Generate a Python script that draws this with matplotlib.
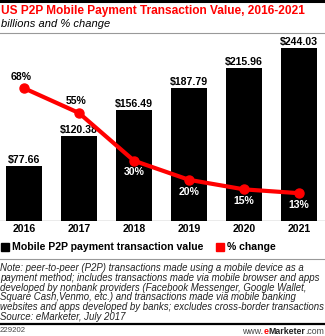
import matplotlib
matplotlib.use("Agg")
import matplotlib.pyplot as plt
from matplotlib.patches import Rectangle
from matplotlib.lines import Line2D

W, H = 325, 336

years = ["2016", "2017", "2018", "2019", "2020", "2021"]
values = [77.66, 120.38, 156.49, 187.79, 215.96, 244.03]
pct_change = [68, 55, 30, 20, 15, 13]
value_labels = ["$77.66", "$120.38", "$156.49", "$187.79", "$215.96", "$244.03"]
pct_labels = ["68%", "55%", "30%", "20%", "15%", "13%"]

note_lines = [
    "Note: peer-to-peer (P2P) transactions made using a mobile device as a",
    "payment method; includes transactions made via mobile browser and apps",
    "developed by nonbank providers (Facebook Messenger, Google Wallet,",
    "Square Cash,Venmo, etc.) and transactions made via mobile banking",
    "websites and apps developed by banks; excludes cross-border transactions",
    "Source: eMarketer, July 2017",
]

RED = "#ff0000"
plt.rcParams["font.family"] = ["Liberation Sans", "DejaVu Sans"]


def fy(py):
    return 1 - py / H


def fx(px):
    return px / W


fig = plt.figure(figsize=(W / 100, H / 100), dpi=100)

# chart area: baseline at y=221px, top at y=40px
ax = fig.add_axes([0, fy(221), 1, (221 - 40) / H])
x = list(range(len(years)))
ax.bar(x, values, width=0.655, color="black", zorder=2)
ax.set_xlim(-24 / 55, (325 - 24) / 55)
ax.set_ylim(0, 181 / 0.709)
for i, (v, lab) in enumerate(zip(values, value_labels)):
    ax.text(i, v + 1.5, lab, ha="center", va="bottom", fontsize=7.6,
            fontweight="bold", color="black", zorder=5)
ax.axhline(0, color="#999999", lw=1, zorder=1)
ax.set_axis_off()

ax2 = ax.twinx()
ax2.set_ylim(-1.57, -1.57 + 181 / 1.909)
ax2.plot(x, pct_change, color=RED, lw=3, marker="o", markersize=6.5,
         solid_capstyle="round", zorder=4)
for i, (p, lab) in enumerate(zip(pct_change, pct_labels)):
    if i < 2:
        ax2.text(i - 0.05, p + 3.5, lab, ha="center", va="bottom", fontsize=7.6,
                 fontweight="bold", color="black")
    else:
        ax2.text(i, p - 3.5, lab, ha="center", va="top", fontsize=7.6,
                 fontweight="bold", color="white")
ax2.set_axis_off()

# year labels
for i, yr in enumerate(years):
    fig.text(fx(24 + 55 * i), fy(229.5), yr, ha="center", va="center",
             fontsize=7.6, fontweight="bold")

# title block
fig.add_artist(Line2D([0, 1], [fy(1), fy(1)], color="black", lw=2.2))
fig.text(fx(1), fy(11), "US P2P Mobile Payment Transaction Value, 2016-2021",
         ha="left", va="center", fontsize=8.6, fontweight="bold", color=RED)
fig.text(fx(1), fy(24), "billions and % change", ha="left", va="center",
         fontsize=8, style="italic", color="black")
fig.add_artist(Line2D([0, 1], [fy(33), fy(33)], color="#999999", lw=0.8))

# legend
fig.add_artist(Rectangle((fx(1), fy(251)), fx(8), 8 / H, color="black"))
fig.text(fx(12), fy(246.5), "Mobile P2P payment transaction value", ha="left",
         va="center", fontsize=7.6, fontweight="bold")
fig.add_artist(Rectangle((fx(216), fy(251)), fx(8), 8 / H, color=RED))
fig.text(fx(227), fy(246.5), "% change", ha="left", va="center",
         fontsize=7.6, fontweight="bold")
fig.add_artist(Line2D([0, 1], [fy(259), fy(259)], color="#999999", lw=0.8))

# note
for k, line in enumerate(note_lines):
    fig.text(fx(0), fy(268 + 9.8 * k), line, ha="left", va="center",
             fontsize=6.9, style="italic", color="#222222")

fig.add_artist(Line2D([0, 1], [fy(323.5), fy(323.5)], color="black", lw=1.6))
fig.text(fx(0), fy(331), "229202", ha="left", va="center", fontsize=5.6,
         color="#444444")

# footer logo text, built right to left
fig.canvas.draw()
r = fig.canvas.get_renderer()
pieces = [(".com", "normal", "#444444"), ("Marketer", "bold", "#222222"),
          ("e", "bold", RED), ("www.", "normal", "#444444")]
right = fx(324)
for txt, wt, col in pieces:
    t = fig.text(right, fy(331), txt, ha="right", va="center", fontsize=6.3,
                 fontweight=wt, color=col)
    bb = t.get_window_extent(r)
    right = bb.x0 / fig.dpi / fig.get_figwidth()

fig.savefig("out.png", dpi=100)
